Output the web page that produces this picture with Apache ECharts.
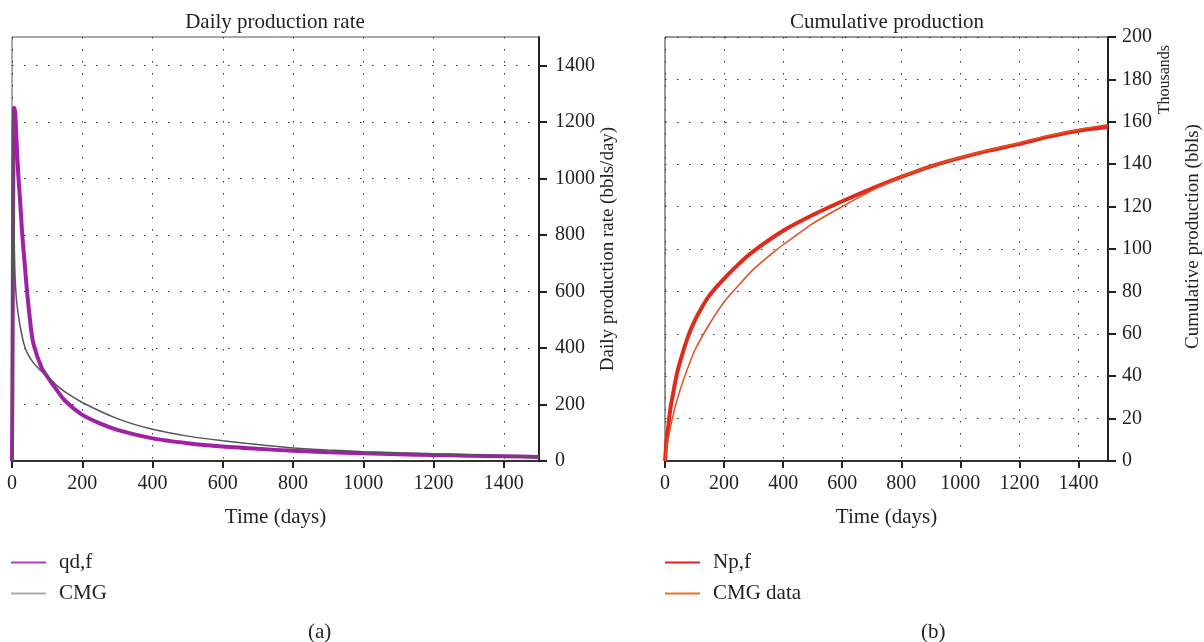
<!DOCTYPE html>
<html>
<head>
<meta charset="utf-8">
<script src="https://cdn.jsdelivr.net/npm/echarts@6/dist/echarts.min.js"></script>
<style>
html,body{margin:0;padding:0;background:#fff;}
#chart{width:1204px;height:642px;}
</style>
</head>
<body>
<div id="chart"></div>
<script>
// ---- Data ----
// Panel (a): daily production rate (bbls/day)
const qdT  = [0, 2, 4, 6, 9, 13, 18, 23, 29, 37, 43.5, 56, 63, 84, 99, 125, 151, 198, 250, 300, 400, 500, 600, 700, 800, 900, 1000, 1100, 1200, 1300, 1400, 1500];
const qdV  = [0, 500, 1100, 1250, 1235, 1130, 1010, 922, 803, 685, 591, 449, 405, 331, 301, 255, 213, 165, 133, 110, 80, 63, 51, 43, 36, 31, 27, 24, 21, 19, 17, 14];
const cmgT = [0, 2, 4, 6, 8, 10, 13, 20, 27, 35, 45, 60, 80, 100, 130, 150, 200, 300, 400, 500, 600, 700, 800, 900, 1000, 1100, 1200, 1300, 1400, 1500];
const cmgV = [0, 1240, 1000, 800, 680, 620, 567, 500, 452, 410, 378, 349, 322, 300, 265, 245, 207, 150, 112, 88, 72, 58, 46, 39, 33, 29, 26, 22, 19, 17];
// Panel (b): cumulative production (thousand bbls)
const npT  = [0, 5, 10, 17, 25, 40, 60, 80, 100, 125, 150, 200, 250, 300, 400, 500, 600, 700, 800, 900, 1000, 1100, 1200, 1300, 1400, 1500];
const npV  = [0, 9, 15, 23.5, 30, 41, 51, 59.5, 66, 72.5, 78, 86, 93, 99, 108.6, 116, 122.5, 128.5, 134, 139, 143, 146.5, 149.6, 153, 155.8, 157.5];
const cmgDT = [0, 5, 10, 28, 50, 75, 100, 150, 200, 250, 300, 372, 400, 500, 600, 700, 800, 900, 1000, 1100, 1200, 1300, 1400, 1500];
const cmgDV = [0, 6, 10, 22, 33, 43, 52, 64.5, 75, 83, 90.5, 99, 102, 112, 120, 127.5, 134, 139, 143.2, 146.8, 150, 153.5, 156.3, 158.7];
// Axis tick values
const timeTicks = [0, 200, 400, 600, 800, 1000, 1200, 1400];
const rateTicks = [0, 200, 400, 600, 800, 1000, 1200, 1400];
const cumTicks  = [0, 20, 40, 60, 80, 100, 120, 140, 160, 180, 200];

const pairs = (t, v) => t.map((x, i) => [x, v[i]]);

const FONT = 'Liberation Serif';
const TXT = '#231f20';
const dotted = {color: '#333', width: 1, type: [1.5, 10.5]};
const plain = v => String(v);

function xAxisCfg(gi) {
  return {
    type: 'value', gridIndex: gi, min: 0, max: 1500, interval: 200,
    name: 'Time (days)', nameLocation: 'middle', nameGap: 46, nameMoveOverlap: false,
    nameTextStyle: {fontFamily: FONT, fontSize: 21, color: TXT},
    axisLine: {show: true, onZero: false, lineStyle: {color: '#333', width: 2}},
    axisTick: {show: true, length: 7, lineStyle: {color: '#222', width: 2}, customValues: timeTicks},
    axisLabel: {fontFamily: FONT, fontSize: 20, color: TXT, margin: 13, customValues: timeTicks, formatter: plain},
    splitLine: {show: true, lineStyle: dotted}
  };
}

const option = {
  animation: false,
  backgroundColor: '#fff',
  title: [
    {text: 'Daily production rate', left: 270, top: 7, textAlign: 'center',
     textStyle: {fontFamily: FONT, fontSize: 21, fontWeight: 'normal', color: TXT}},
    {text: 'Cumulative production', left: 882, top: 7, textAlign: 'center',
     textStyle: {fontFamily: FONT, fontSize: 21, fontWeight: 'normal', color: TXT}}
  ],
  grid: [
    {left: 12, width: 527, top: 37, height: 424, show: true, borderColor: '#555', borderWidth: 1, backgroundColor: 'transparent'},
    {left: 665, width: 443, top: 37, height: 424, show: true, borderColor: '#333', borderWidth: 1, backgroundColor: 'transparent'}
  ],
  xAxis: [xAxisCfg(0), xAxisCfg(1)],
  yAxis: [
    {
      type: 'value', gridIndex: 0, position: 'right', min: 0, max: 1500, interval: 200,
      name: 'Daily production rate (bbls/day)', nameLocation: 'middle', nameGap: 60, nameMoveOverlap: false,
      nameTextStyle: {fontFamily: FONT, fontSize: 19, color: TXT},
      axisLine: {show: true, onZero: false, lineStyle: {color: '#222', width: 2}},
      axisTick: {show: true, length: 8, lineStyle: {color: '#222', width: 2}, customValues: rateTicks},
      axisLabel: {fontFamily: FONT, fontSize: 20, color: TXT, margin: 16, customValues: rateTicks, formatter: plain},
      splitLine: {show: true, lineStyle: dotted}
    },
    {
      type: 'value', gridIndex: 1, position: 'right', min: 0, max: 200, interval: 20,
      name: 'Cumulative production (bbls)', nameLocation: 'middle', nameGap: 76, nameMoveOverlap: false,
      nameTextStyle: {fontFamily: FONT, fontSize: 19, color: TXT, padding: [0, 0, 0, 25]},
      axisLine: {show: true, onZero: false, lineStyle: {color: '#222', width: 2}},
      axisTick: {show: true, length: 8, lineStyle: {color: '#222', width: 2}, customValues: cumTicks},
      axisLabel: {fontFamily: FONT, fontSize: 20, color: TXT, margin: 14, customValues: cumTicks, formatter: plain},
      splitLine: {show: true, lineStyle: dotted}
    }
  ],
  legend: [
    {
      orient: 'vertical', left: 6, top: 547, itemWidth: 35, itemHeight: 2, itemGap: 10, icon: 'rect',
      textStyle: {fontFamily: FONT, fontSize: 21, color: TXT, padding: [0, 0, 0, 8]},
      data: [{name: 'qd,f', itemStyle: {color: '#b43cb4'}}, {name: 'CMG', itemStyle: {color: '#aaaaaa'}}]
    },
    {
      orient: 'vertical', left: 660, top: 547, itemWidth: 35, itemHeight: 2, itemGap: 10, icon: 'rect',
      textStyle: {fontFamily: FONT, fontSize: 21, color: TXT, padding: [0, 0, 0, 8]},
      data: [{name: 'Np,f', itemStyle: {color: '#d9261c'}}, {name: 'CMG data', itemStyle: {color: '#e8702a'}}]
    }
  ],
  graphic: [
    {type: 'text', left: 1157, top: 45, rotation: Math.PI / 2,
     style: {text: 'Thousands', font: '16px "Liberation Serif"', fill: TXT}},
    {type: 'text', left: 308, top: 622, style: {text: '(a)', font: '21px "Liberation Serif"', fill: TXT}},
    {type: 'text', left: 921, top: 622, style: {text: '(b)', font: '21px "Liberation Serif"', fill: TXT}}
  ],
  series: [
    {name: 'qd,f', type: 'line', xAxisIndex: 0, yAxisIndex: 0, data: pairs(qdT, qdV),
     showSymbol: false, smooth: 0.25, lineStyle: {color: '#a020a8', width: 4}, itemStyle: {color: '#b43cb4'}, z: 2},
    {name: 'CMG', type: 'line', xAxisIndex: 0, yAxisIndex: 0, data: pairs(cmgT, cmgV),
     showSymbol: false, smooth: 0.25, lineStyle: {color: '#555', width: 1.5}, itemStyle: {color: '#aaaaaa'}, z: 3},
    {name: 'Np,f', type: 'line', xAxisIndex: 1, yAxisIndex: 1, data: pairs(npT, npV),
     showSymbol: false, smooth: 0.25, lineStyle: {color: '#e02a1c', width: 4}, itemStyle: {color: '#d9261c'}, z: 2},
    {name: 'CMG data', type: 'line', xAxisIndex: 1, yAxisIndex: 1, data: pairs(cmgDT, cmgDV),
     showSymbol: false, smooth: 0.25, lineStyle: {color: '#e4501e', width: 1.5}, itemStyle: {color: '#e8702a'}, z: 3}
  ]
};

const chart = echarts.init(document.getElementById('chart'), null, {renderer: 'canvas'});
chart.setOption(option);
</script>
</body>
</html>
